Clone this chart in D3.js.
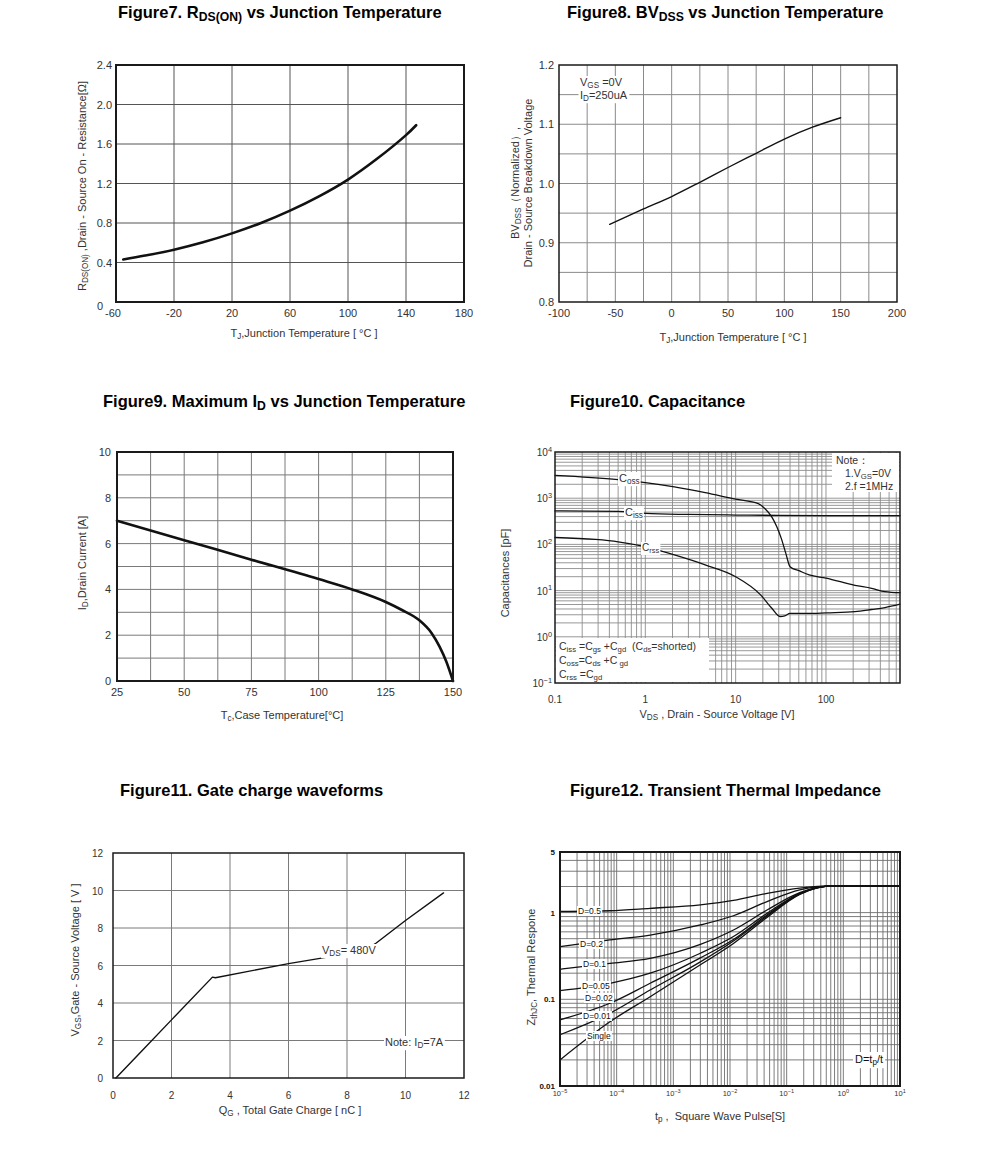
<!DOCTYPE html>
<html><head><meta charset="utf-8">
<script src="https://cdn.jsdelivr.net/npm/d3@7"></script>
<style>body{margin:0;background:#fff} svg{display:block;font-family:"Liberation Sans",Arial,sans-serif} text{white-space:pre}</style>
</head><body><svg id="c" width="991" height="1151"></svg>
<script>
// ---------- DATA ----------
// Figure 7
const fig7Temp = [-55, -40, -20, 0, 20, 40, 60, 80, 100, 120, 140, 147];
const fig7Rds  = [0.43, 0.47, 0.53, 0.605, 0.695, 0.80, 0.925, 1.07, 1.24, 1.45, 1.69, 1.79];
const fig7XTicks = [-60, -20, 20, 60, 100, 140, 180];
const fig7YTicks = [0, 0.4, 0.8, 1.2, 1.6, 2.0, 2.4];
const fig7YLabels = ["0", "0.4", "0.8", "1.2", "1.6", "2.0", "2.4"];
// Figure 8
const fig8Temp = [-55, -25, 0, 25, 50, 75, 100, 125, 150];
const fig8BV   = [0.931, 0.957, 0.978, 1.002, 1.027, 1.051, 1.075, 1.095, 1.111];
const fig8XTicks = [-100, -50, 0, 50, 100, 150, 200];
const fig8YTicks = [0.8, 0.9, 1.0, 1.1, 1.2];
const fig8YLabels = ["0.8", "0.9", "1.0", "1.1", "1.2"];
// Figure 9
const fig9Temp = [25, 50, 75, 100, 112.5, 125, 131, 137.5, 142, 145, 147.5, 150];
const fig9Id   = [7.0, 6.15, 5.3, 4.45, 4.0, 3.45, 3.1, 2.65, 2.1, 1.5, 0.85, 0];
const fig9XTicks = [25, 50, 75, 100, 125, 150];
const fig9YTicks = [0, 2, 4, 6, 8, 10];
// Figure 10
const fig10CossV = [0.1, 0.5, 1, 2.1, 4.6, 10, 17.8, 21, 25, 32, 36, 40, 51, 65, 100, 209, 320, 450, 660];
const fig10Coss  = [3130, 2530, 2180, 1760, 1320, 950, 760, 600, 400, 135, 63, 33, 26.6, 21.8, 18.7, 13, 11.2, 9.5, 9];
const fig10CissV = [0.1, 0.5, 1, 3, 10, 30, 100, 660];
const fig10Ciss  = [530, 520, 470, 445, 432, 425, 420, 418];
const fig10CrssV = [0.1, 0.28, 0.5, 1, 2.1, 4.6, 10, 19, 25, 31, 35, 40, 65, 100, 209, 320, 450, 660];
const fig10Crss  = [141, 128, 114, 89, 59, 36, 20, 8, 4.2, 2.75, 2.85, 3.2, 3.2, 3.3, 3.5, 3.9, 4.3, 5.1];
const fig10XTicks = [0.1, 1, 10, 100];
const fig10XLabels = ["0.1", "1", "10", "100"];
const fig10YExp = [-1, 0, 1, 2, 3, 4];
// Figure 11
const fig11Qg  = [0.1, 1, 2, 3.4, 3.5, 6, 8, 8.6, 9, 10, 11.3];
const fig11Vgs = [0, 1.47, 3.1, 5.38, 5.35, 6.1, 6.62, 6.8, 7.2, 8.4, 9.87];
const fig11Ticks = [0, 2, 4, 6, 8, 10, 12];
// Figure 12
const fig12T = [1e-5, 7.6e-5, 3.9e-4, 3e-3, 1.15e-2, 4.5e-2, 0.17, 0.66, 10];
const fig12D05  = [1.03, 1.05, 1.12, 1.23, 1.38, 1.67, 1.92, 2.03, 2.03];
const fig12D02  = [0.405, 0.484, 0.55, 0.72, 0.92, 1.34, 1.83, 2.03, 2.03];
const fig12D01  = [0.222, 0.259, 0.297, 0.43, 0.63, 1.07, 1.70, 2.03, 2.03];
const fig12D005 = [0.126, 0.153, 0.20, 0.34, 0.53, 0.98, 1.67, 2.03, 2.03];
const fig12D002 = [0.058, 0.09, 0.153, 0.30, 0.49, 0.94, 1.65, 2.03, 2.03];
const fig12D001 = [0.039, 0.069, 0.128, 0.27, 0.47, 0.91, 1.63, 2.03, 2.03];
const fig12Single = [0.02, 0.055, 0.107, 0.25, 0.44, 0.88, 1.62, 2.03, 2.03];
const fig12XExp = [-5, -4, -3, -2, -1, 0, 1];
const fig12YTicks = [0.01, 0.1, 1, 5];
const fig12YLabels = ["0.01", "0.1", "1", "5"];

// ---------- HELPERS ----------
const svg = d3.select('#c');
const TXT = '#333';

function rich(parent, x, y, parts, o = {}) {
  const fs = o.size || 11;
  const t = parent.append('text').attr('x', x).attr('y', y)
    .attr('font-size', fs).attr('fill', o.fill || TXT)
    .attr('text-anchor', o.anchor || 'start')
    .attr('font-weight', o.weight || 'normal');
  if (o.rotate) t.attr('transform', `rotate(-90,${x},${y})`);
  let cur = 0;
  parts.forEach(p => {
    const [s, k] = typeof p === 'string' ? [p, 'n'] : p;
    const off = k === 'sub' ? fs * 0.2 : k === 'sup' ? -fs * 0.42 : 0;
    t.append('tspan').attr('dy', off - cur).attr('font-size', k === 'n' ? fs : fs * 0.74).text(s);
    cur = off;
  });
  return t;
}
function boxed(t, px = 1.5, py = 0.5) {
  const b = t.node().getBBox();
  d3.select(t.node().parentNode).insert('rect', () => t.node())
    .attr('x', b.x - px).attr('y', b.y - py).attr('width', b.width + 2 * px).attr('height', b.height + 2 * py)
    .attr('fill', '#fff');
  return t;
}
function grid(g, sx, sy, xv, yv, color, w) {
  const [x0, x1] = sx.range(), [y1, y0] = sy.range();
  g.selectAll(null).data(xv).join('line')
    .attr('x1', d => sx(d)).attr('x2', d => sx(d)).attr('y1', y0).attr('y2', y1)
    .attr('stroke', color).attr('stroke-width', w);
  g.selectAll(null).data(yv).join('line')
    .attr('y1', d => sy(d)).attr('y2', d => sy(d)).attr('x1', x0).attr('x2', x1)
    .attr('stroke', color).attr('stroke-width', w);
}
function frame(g, sx, sy, w) {
  const [x0, x1] = sx.range(), [y1, y0] = sy.range();
  g.append('rect').attr('x', x0).attr('y', y0).attr('width', x1 - x0).attr('height', y1 - y0)
    .attr('fill', 'none').attr('stroke', '#1a1a1a').attr('stroke-width', w);
}
function curve(g, xs, ys, sx, sy, w, c) {
  const pts = xs.map((v, i) => [sx(v), sy(ys[i])]);
  g.append('path').attr('d', d3.line().curve(c || d3.curveMonotoneX)(pts))
    .attr('fill', 'none').attr('stroke', '#111').attr('stroke-width', w)
    .attr('stroke-linejoin', 'round').attr('stroke-linecap', 'round');
}
function title(x, y, parts) { rich(svg, x, y, parts, { size: 16.5, weight: 'bold', fill: '#000' }); }
function logMinor(lo, hi) {
  const out = [];
  for (let e = lo; e < hi; e++) for (let m = 1; m <= 9; m++) out.push(m * Math.pow(10, e));
  return out;
}

// ---------- FIGURE 7 ----------
{
  const g = svg.append('g');
  const sx = d3.scaleLinear().domain([-60, 180]).range([116, 464]);
  const sy = d3.scaleLinear().domain([0, 2.4]).range([302, 65]);
  grid(g, sx, sy, fig7XTicks.slice(1, -1), fig7YTicks.slice(1, -1), '#555', 1);
  curve(g, fig7Temp, fig7Rds, sx, sy, 2.6, d3.curveCatmullRom);
  frame(g, sx, sy, 2);
  fig7YTicks.forEach((v, i) => {
    if (v === 0) g.append('text').attr('x', 103).attr('y', sy(v) + 8).attr('text-anchor', 'end').attr('font-size', 11).attr('fill', TXT).text('0');
    else g.append('text').attr('x', 112).attr('y', sy(v) + 4).attr('text-anchor', 'end').attr('font-size', 11).attr('fill', TXT).text(fig7YLabels[i]);
  });
  fig7XTicks.forEach(v => g.append('text').attr('x', sx(v) - (v === -60 ? 3 : 0)).attr('y', 317).attr('text-anchor', 'middle').attr('font-size', 11).attr('fill', TXT).text(v));
  rich(g, 304, 337, ['T', ['J', 'sub'], ',Junction Temperature [ °C ]'], { anchor: 'middle', size: 11 });
  rich(g, 86, 186, ['R', ['DS(ON)', 'sub'], ' ,Drain - Source On - Resistance[Ω]'], { anchor: 'middle', size: 11, rotate: true });
  title(118, 18, ['Figure7. R', ['DS(ON)', 'sub'], ' vs Junction Temperature']);
}

// ---------- FIGURE 8 ----------
{
  const g = svg.append('g');
  const sx = d3.scaleLinear().domain([-100, 200]).range([559, 897]);
  const sy = d3.scaleLinear().domain([0.8, 1.2]).range([302, 65]);
  grid(g, sx, sy, d3.range(-75, 200, 25), d3.range(0.85, 1.2, 0.05), '#8a8a8a', 1);
  const lg1 = rich(g, 580, 86, ['V', ['GS', 'sub'], ' =0V'], { size: 11 });
  boxed(lg1, 1.5, 0);
  const lg2 = rich(g, 580, 99, ['I', ['D', 'sub'], '=250uA'], { size: 11 });
  boxed(lg2, 1.5, 0);
  curve(g, fig8Temp, fig8BV, sx, sy, 1.4);
  frame(g, sx, sy, 1.5);
  fig8YTicks.forEach((v, i) => g.append('text').attr('x', 554).attr('y', sy(v) + 4).attr('text-anchor', 'end').attr('font-size', 11).attr('fill', TXT).text(fig8YLabels[i]));
  fig8XTicks.forEach(v => g.append('text').attr('x', sx(v)).attr('y', 317).attr('text-anchor', 'middle').attr('font-size', 11).attr('fill', TXT).text(v));
  rich(g, 733, 341, ['T', ['J', 'sub'], ',Junction Temperature [ °C ]'], { anchor: 'middle', size: 11 });
  rich(g, 519, 183, ['BV', ['DSS', 'sub'], '（Normalized）,'], { anchor: 'middle', size: 11, rotate: true });
  rich(g, 532, 183, ['Drain - Source Breakdown Voltage'], { anchor: 'middle', size: 11, rotate: true });
  title(567, 18, ['Figure8. BV', ['DSS', 'sub'], ' vs Junction Temperature']);
}

// ---------- FIGURE 9 ----------
{
  const g = svg.append('g');
  const sx = d3.scaleLinear().domain([25, 150]).range([117, 453]);
  const sy = d3.scaleLinear().domain([0, 10]).range([681, 452]);
  grid(g, sx, sy, d3.range(37.5, 150, 12.5), d3.range(1, 10, 1), '#7a7a7a', 1);
  curve(g, fig9Temp, fig9Id, sx, sy, 2.6);
  frame(g, sx, sy, 2);
  fig9YTicks.forEach(v => g.append('text').attr('x', 111).attr('y', sy(v) + 4).attr('text-anchor', 'end').attr('font-size', 11).attr('fill', TXT).text(v));
  fig9XTicks.forEach(v => g.append('text').attr('x', sx(v)).attr('y', 696).attr('text-anchor', 'middle').attr('font-size', 11).attr('fill', TXT).text(v));
  rich(g, 282, 719, ['T', ['c', 'sub'], ',Case Temperature[°C]'], { anchor: 'middle', size: 11 });
  rich(g, 86, 563, ['I', ['D', 'sub'], ',Drain Current [A]'], { anchor: 'middle', size: 11, rotate: true });
  title(103, 407, ['Figure9. Maximum I', ['D', 'sub'], ' vs Junction Temperature']);
}

// ---------- FIGURE 10 ----------
{
  const g = svg.append('g');
  const sx = d3.scaleLog().domain([0.1, 660]).range([555, 900]);
  const sy = d3.scaleLog().domain([0.1, 10000]).range([683, 452]);
  const xm = logMinor(-1, 3).filter(v => v > 0.1 && v < 660);
  const ym = logMinor(-1, 4).filter(v => v > 0.1 && v < 10000);
  grid(g, sx, sy, xm, ym, '#8c8c8c', 0.9);
  curve(g, fig10CossV, fig10Coss, sx, sy, 1.3);
  curve(g, fig10CissV, fig10Ciss, sx, sy, 1.3);
  curve(g, fig10CrssV, fig10Crss, sx, sy, 1.3);
  boxed(rich(g, 619, 482, ['C', ['oss', 'sub']], { size: 11 }), 1, 0);
  boxed(rich(g, 625, 516, ['C', ['iss', 'sub']], { size: 11 }), 1, 0);
  boxed(rich(g, 642, 551, ['C', ['rss', 'sub']], { size: 10 }), 1, 0);
  g.append('rect').attr('x', 832).attr('y', 453).attr('width', 67).attr('height', 39).attr('fill', '#fff');
  rich(g, 836, 464, ['Note：'], { size: 10.5 });
  rich(g, 845, 477, ['1.V', ['GS', 'sub'], '=0V'], { size: 10.5 });
  rich(g, 845, 490, ['2.f =1MHz'], { size: 10.5 });
  g.append('rect').attr('x', 556).attr('y', 638).attr('width', 153).attr('height', 44).attr('fill', '#fff');
  rich(g, 559, 650, ['C', ['iss', 'sub'], ' =C', ['gs', 'sub'], ' +C', ['gd', 'sub'], '  (C', ['ds', 'sub'], '=shorted)'], { size: 10.5 });
  rich(g, 559, 664, ['C', ['oss', 'sub'], '=C', ['ds', 'sub'], ' +C', [' gd', 'sub']], { size: 10.5 });
  rich(g, 559, 678, ['C', ['rss', 'sub'], ' =C', ['gd', 'sub']], { size: 10.5 });
  frame(g, sx, sy, 1.5);
  fig10YExp.forEach(e => rich(g, 552, sy(Math.pow(10, e)) + 4, ['10', [String(e).replace('-', '−'), 'sup']], { size: 10, anchor: 'end' }));
  fig10XTicks.forEach((v, i) => g.append('text').attr('x', sx(v)).attr('y', 703).attr('text-anchor', 'middle').attr('font-size', 10).attr('fill', TXT).text(fig10XLabels[i]));
  rich(g, 717, 718, ['V', ['DS', 'sub'], ' , Drain - Source Voltage [V]'], { anchor: 'middle', size: 11 });
  rich(g, 509, 573, ['Capacitances [pF]'], { anchor: 'middle', size: 11, rotate: true });
  title(570, 407, ['Figure10. Capacitance']);
}

// ---------- FIGURE 11 ----------
{
  const g = svg.append('g');
  const sx = d3.scaleLinear().domain([0, 12]).range([113, 464]);
  const sy = d3.scaleLinear().domain([0, 12]).range([1078, 853]);
  grid(g, sx, sy, fig11Ticks.slice(1, -1), fig11Ticks.slice(1, -1), '#7a7a7a', 1);
  curve(g, fig11Qg, fig11Vgs, sx, sy, 1.4, d3.curveLinear);
  boxed(rich(g, 322, 954, ['V', ['DS', 'sub'], '= 480V'], { size: 11 }), 1, 0);
  boxed(rich(g, 385, 1046, ['Note: I', ['D', 'sub'], '=7A'], { size: 11 }), 1, 0);
  frame(g, sx, sy, 1.5);
  fig11Ticks.forEach(v => g.append('text').attr('x', 103).attr('y', sy(v) + 4).attr('text-anchor', 'end').attr('font-size', 10).attr('fill', TXT).text(v));
  fig11Ticks.forEach(v => g.append('text').attr('x', sx(v)).attr('y', 1099).attr('text-anchor', 'middle').attr('font-size', 10).attr('fill', TXT).text(v));
  rich(g, 290, 1114, ['Q', ['G', 'sub'], ' , Total Gate Charge [ nC ]'], { anchor: 'middle', size: 11 });
  rich(g, 79, 960, ['V', ['GS', 'sub'], ',Gate - Source Voltage [ V ]'], { anchor: 'middle', size: 11, rotate: true });
  title(120, 796, ['Figure11. Gate charge waveforms']);
}

// ---------- FIGURE 12 ----------
{
  const g = svg.append('g');
  const sx = d3.scaleLog().domain([1e-5, 10]).range([560, 900]);
  const sy = d3.scaleLog().domain([0.01, 5]).range([1086, 852]);
  const xm = logMinor(-5, 1).filter(v => v > 1e-5 && v < 10);
  const ym = logMinor(-2, 1).filter(v => v > 0.01 && v < 5);
  grid(g, sx, sy, xm, ym, '#6e6e6e', 0.9);
  [fig12D05, fig12D02, fig12D01, fig12D005, fig12D002, fig12D001, fig12Single]
    .forEach(arr => curve(g, fig12T, arr, sx, sy, 1.3));
  const lab = [['D=0.5', 578, 914], ['D=0.2', 580, 947], ['D=0.1', 583, 967], ['D=0.05', 582, 989],
               ['D=0.02', 585, 1001], ['D=0.01', 583, 1019], ['Single', 587, 1039]];
  lab.forEach(([t, x, y]) => boxed(rich(g, x, y, [t], { size: 8.5, fill: '#111' }), 1, 0));
  boxed(rich(g, 855, 1063, ['D=t', ['p', 'sub'], '/t'], { size: 11, fill: '#111' }), 2, 1);
  frame(g, sx, sy, 2);
  fig12YTicks.forEach((v, i) => g.append('text').attr('x', 555).attr('y', sy(v) + 3).attr('text-anchor', 'end').attr('font-size', 8).attr('font-weight', 'bold').attr('fill', '#111').text(fig12YLabels[i]));
  fig12XExp.forEach(e => rich(g, sx(Math.pow(10, e)), 1096, ['10', [String(e).replace('-', '−'), 'sup']], { size: 7.5, anchor: 'middle' }));
  rich(g, 720, 1120, ['t', ['p', 'sub'], ' ,  Square Wave Pulse[S]'], { anchor: 'middle', size: 11 });
  rich(g, 535, 967, ['Z', ['thJC', 'sub'], ', Thermal Respone'], { anchor: 'middle', size: 11, rotate: true });
  title(570, 796, ['Figure12. Transient Thermal Impedance']);
}
</script></body></html>
